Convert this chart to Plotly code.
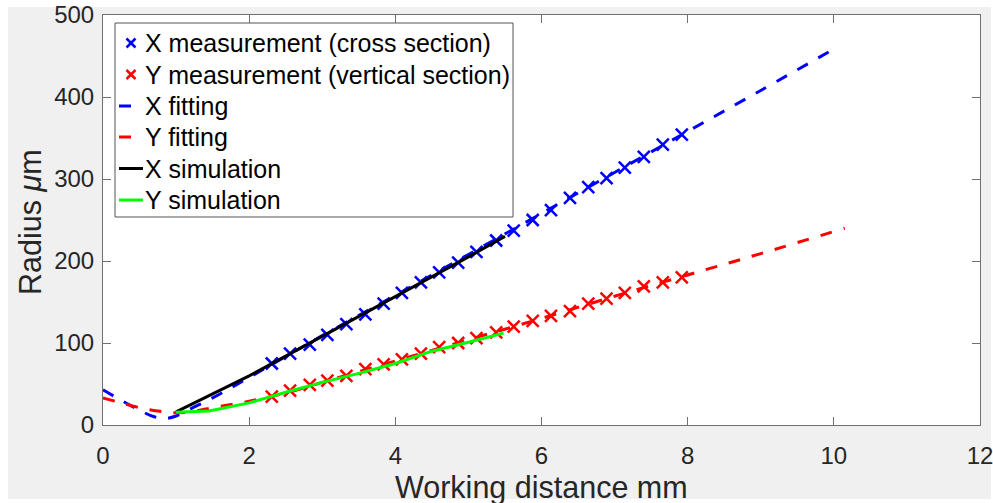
import plotly.graph_objects as go

# Measured beam radius (µm) versus working distance (mm)
meas_x = [2.31, 2.56, 2.83, 3.07, 3.33, 3.59, 3.84, 4.09, 4.35, 4.60, 4.86, 5.11,
          5.38, 5.62, 5.88, 6.13, 6.39, 6.64, 6.89, 7.14, 7.40, 7.66, 7.92]
meas_x_radius = [75, 87, 98, 110, 123, 135, 148, 161, 174, 186, 198, 211,
                 225, 237, 250, 262, 277, 290, 301, 314, 327, 342, 354]
meas_y_radius = [34.5, 42, 49, 54, 60, 68, 74, 80, 87, 95, 100, 106,
                 113, 120, 127, 133, 139, 148, 154, 161, 169, 174, 180]

# Fitted beam-waist curves
fit_x_z = [0, 0.25, 0.5, 0.7, 0.85, 1.0, 1.25, 1.5, 2, 3, 4, 5, 6, 7, 8, 9, 10.05]
fit_x_r = [43, 30, 18, 10, 8, 11, 22, 33, 58, 109, 158, 208, 258, 308, 358, 408, 461]
fit_y_z = [0, 0.25, 0.5, 0.75, 1.0, 1.25, 1.5, 2, 2.5, 3, 4, 5, 6, 7, 8, 9, 10.15]
fit_y_r = [33, 27, 21, 17, 15, 17, 21, 29, 39, 52, 78, 104, 130, 157, 183, 209, 240]

# Simulated radius
sim_x_z = [1.0, 1.5, 2.0, 2.5, 3.0, 3.5, 4.0, 4.5, 5.0, 5.5]
sim_x_r = [16, 38, 60, 84, 108, 132, 156, 181, 205, 230]
sim_y_z = [1.0, 1.45, 2.0, 2.5, 3.0, 3.5, 4.0, 4.5, 5.0, 5.48]
sim_y_r = [15.5, 17, 27, 40, 52, 63, 75, 90, 101, 112]

x_ticks = [0, 2, 4, 6, 8, 10, 12]
y_ticks = [0, 100, 200, 300, 400, 500]

series_names = ["X measurement (cross section)", "Y measurement (vertical section)",
                "X fitting", "Y fitting", "X simulation", "Y simulation"]

FONT = "Liberation Sans, Arial, sans-serif"
TXT = "#262626"
AX = "#707070"
BLUE, RED, BLACK, GREEN = "#0000ff", "#ff0000", "#000000", "#00ff00"
DASH = "12px,12px"

fig = go.Figure()
fig.add_trace(go.Scatter(
    x=meas_x, y=meas_x_radius, mode="markers", name=series_names[0],
    marker=dict(symbol="x-thin", size=12, line=dict(color=BLUE, width=2.5))))
fig.add_trace(go.Scatter(
    x=meas_x, y=meas_y_radius, mode="markers", name=series_names[1],
    marker=dict(symbol="x-thin", size=12, line=dict(color=RED, width=2.5))))
fig.add_trace(go.Scatter(
    x=fit_x_z, y=fit_x_r, mode="lines", name=series_names[2], line_shape="spline",
    line=dict(color=BLUE, width=3, dash=DASH)))
fig.add_trace(go.Scatter(
    x=fit_y_z, y=fit_y_r, mode="lines", name=series_names[3], line_shape="spline",
    line=dict(color=RED, width=3, dash=DASH)))
fig.add_trace(go.Scatter(
    x=sim_x_z, y=sim_x_r, mode="lines", name=series_names[4],
    line=dict(color=BLACK, width=3)))
fig.add_trace(go.Scatter(
    x=sim_y_z, y=sim_y_r, mode="lines", name=series_names[5],
    line=dict(color=GREEN, width=3)))

W, H = 993, 503
L, R, T, B = 103, 980, 15, 425


def px_x(p):
    return (p - L) / (R - L)


def px_y(p):
    return (B - p) / (B - T)


shapes = [
    # grey figure panel
    dict(type="rect", xref="paper", yref="paper", layer="below",
         x0=px_x(8), x1=px_x(991), y0=px_y(499), y1=px_y(7),
         fillcolor="#f0f0f0", line=dict(width=0)),
    # white axes area
    dict(type="rect", xref="x", yref="y", layer="below",
         x0=0, x1=12, y0=0, y1=500, fillcolor="#ffffff", line=dict(width=0)),
]

# Legend box drawn in pixel-mapped paper coordinates
LEG_L, LEG_R, LEG_T, LEG_B = 115, 513, 23, 217
shapes.append(dict(type="rect", xref="paper", yref="paper", layer="above",
                   x0=px_x(LEG_L), x1=px_x(LEG_R), y0=px_y(LEG_B), y1=px_y(LEG_T),
                   fillcolor="#ffffff", line=dict(color="#555555", width=1)))

row_y = [43, 74.5, 106, 137, 168.5, 200]
annotations = []
for i, name in enumerate(series_names):
    yc = row_y[i]
    if i < 2:
        col = BLUE if i == 0 else RED
        h = 4.5
        for sgn in (1, -1):
            shapes.append(dict(type="line", xref="paper", yref="paper", layer="above",
                               x0=px_x(131 - h), x1=px_x(131 + h),
                               y0=px_y(yc - sgn * h), y1=px_y(yc + sgn * h),
                               line=dict(color=col, width=2.5)))
    elif i < 4:
        col = BLUE if i == 2 else RED
        shapes.append(dict(type="line", xref="paper", yref="paper", layer="above",
                           x0=px_x(119), x1=px_x(131), y0=px_y(yc), y1=px_y(yc),
                           line=dict(color=col, width=3)))
    else:
        col = BLACK if i == 4 else GREEN
        shapes.append(dict(type="line", xref="paper", yref="paper", layer="above",
                           x0=px_x(119), x1=px_x(143), y0=px_y(yc), y1=px_y(yc),
                           line=dict(color=col, width=3)))
    annotations.append(dict(text=name, xref="paper", yref="paper",
                            x=px_x(143), y=px_y(yc), xanchor="left", yanchor="middle",
                            showarrow=False, font=dict(family=FONT, size=25, color="#000000")))

annotations += [
    dict(text="Working distance mm", xref="paper", yref="paper",
         x=0.5, y=px_y(488), xanchor="center", yanchor="middle",
         showarrow=False, font=dict(family=FONT, size=30.5, color=TXT)),
    dict(text="Radius <i>μ</i>m", xref="paper", yref="paper",
         x=px_x(30), y=px_y(222), xanchor="center", yanchor="middle",
         textangle=-90, showarrow=False, font=dict(family=FONT, size=30.5, color=TXT)),
]

axis_common = dict(
    showline=True, linecolor=AX, linewidth=1, mirror="ticks",
    ticks="inside", ticklen=8, tickwidth=1, tickcolor=AX,
    showgrid=False, zeroline=False, ticklabeloverflow="allow",
    tickfont=dict(family=FONT, size=24, color=TXT),
)

fig.update_layout(
    width=W, height=H,
    margin=dict(l=L, r=W - R, t=T, b=H - B, autoexpand=False),
    paper_bgcolor="#ffffff", plot_bgcolor="#ffffff",
    shapes=shapes, annotations=annotations,
    xaxis=dict(range=[0, 12.0001], tickvals=x_ticks, ticktext=[str(v) for v in x_ticks],
               ticklabelstandoff=9, **axis_common),
    yaxis=dict(range=[0, 500.01], tickvals=y_ticks, ticktext=[str(v) for v in y_ticks],
               ticklabelstandoff=3, **axis_common),
    showlegend=False,
)

fig.write_html("out.html")
